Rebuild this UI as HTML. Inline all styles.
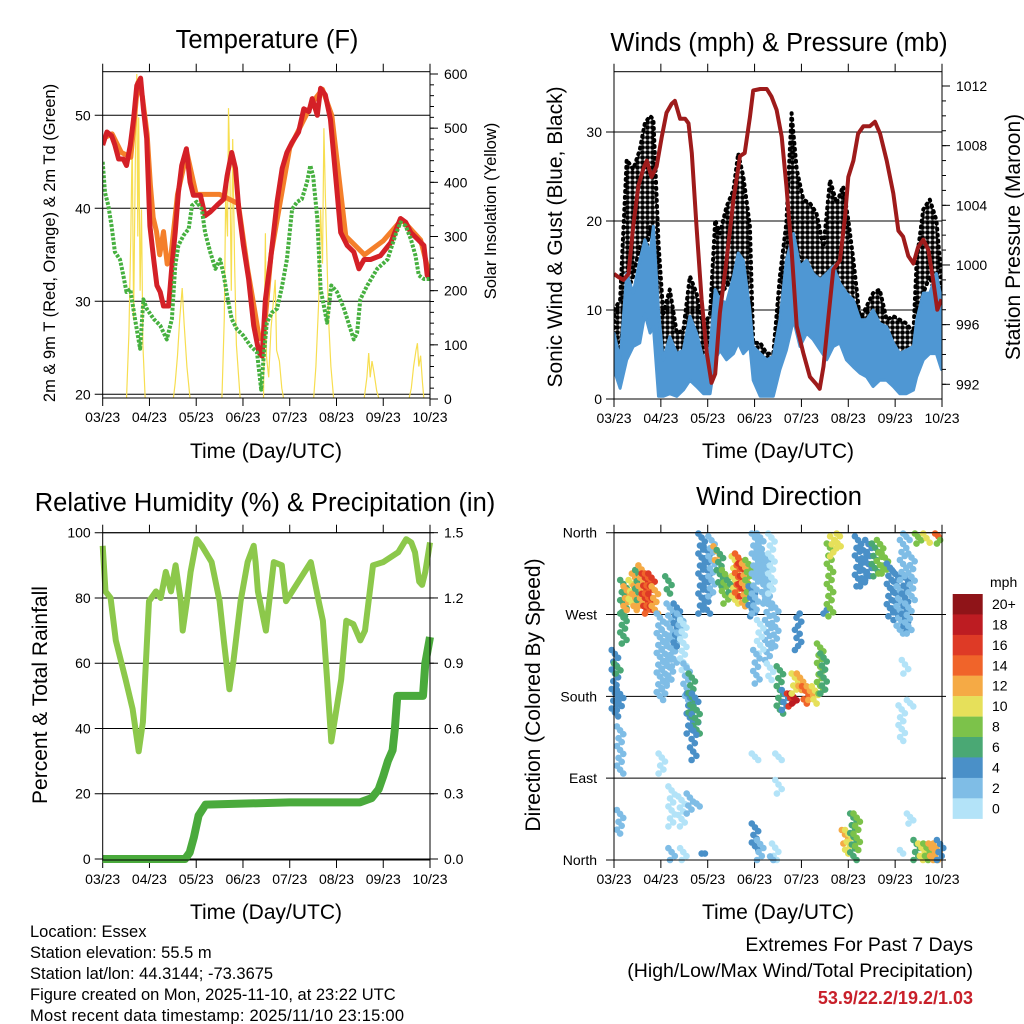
<!DOCTYPE html>
<html><head><meta charset="utf-8"><style>
html,body{margin:0;padding:0;background:#fff;}
svg{display:block;font-family:"Liberation Sans",Arial,sans-serif;}
</style></head><body>
<svg id="chart" width="1024" height="1024" viewBox="0 0 1024 1024" xmlns="http://www.w3.org/2000/svg">
<defs>
<pattern id="dotpat" width="5" height="5" patternUnits="userSpaceOnUse"><circle cx="2.5" cy="2.5" r="2.4" fill="#000"/></pattern>
</defs>
<rect x="0" y="0" width="1024" height="1024" fill="#fff"/>
<g font-size="25.5" text-anchor="middle" fill="#000">
<text x="267" y="48">Temperature (F)</text>
<text x="779" y="51">Winds (mph) &amp; Pressure (mb)</text>
<text x="265" y="511">Relative Humidity (%) &amp; Precipitation (in)</text>
<text x="779" y="505">Wind Direction</text>
</g>
<g font-size="21" text-anchor="middle" fill="#000">
<text x="266" y="458">Time (Day/UTC)</text>
<text x="778" y="458">Time (Day/UTC)</text>
<text x="266" y="919">Time (Day/UTC)</text>
<text x="778" y="919">Time (Day/UTC)</text>
<text transform="translate(562,237) rotate(-90)">Sonic Wind &amp; Gust (Blue, Black)</text>
<text transform="translate(1020,237) rotate(-90)">Station Pressure (Maroon)</text>
<text transform="translate(47,695) rotate(-90)">Percent &amp; Total Rainfall</text>
<text transform="translate(540,695) rotate(-90)">Direction (Colored By Speed)</text>
</g>
<g font-size="16.5" text-anchor="middle" fill="#000">
<text transform="translate(55,243) rotate(-90)">2m &amp; 9m T (Red, Orange) &amp; 2m Td (Green)</text>
<text transform="translate(496,211) rotate(-90)">Solar Insolation (Yellow)</text>
</g>
<g font-size="16.5" fill="#000">
<text x="30" y="937">Location: Essex</text>
<text x="30" y="958">Station elevation: 55.5 m</text>
<text x="30" y="979">Station lat/lon: 44.3144; -73.3675</text>
<text x="30" y="1000">Figure created on Mon, 2025-11-10, at 23:22 UTC</text>
<text x="30" y="1021" textLength="374">Most recent data timestamp: 2025/11/10 23:15:00</text>
</g>
<g font-size="19.5" text-anchor="end" fill="#000">
<text x="973" y="951">Extremes For Past 7 Days</text>
<text x="973" y="977">(High/Low/Max Wind/Total Precipitation)</text>
<text x="973" y="1004" fill="#c8202a" font-weight="bold" font-size="18">53.9/22.2/19.2/1.03</text>
</g>
<text x="990" y="587" font-size="14">mph</text>
</svg>
<script>
// ---------- data ----------
const dayLabels = ["03/23","04/23","05/23","06/23","07/23","08/23","09/23","10/23"];
// temperature
const tempT = [0,0.09,0.19,0.26,0.34,0.44,0.51,0.59,0.66,0.73,0.81,0.87,0.94,1.01,1.09,1.16,1.23,1.30,1.41,1.48,1.55,1.62,1.69,1.79,1.87,1.94,2.09,2.19,2.30,2.44,2.59,2.66,2.76,2.84,2.91,3.01,3.12,3.23,3.34,3.41,3.48,3.59,3.73,3.84,3.94,4.05,4.19,4.30,4.41,4.48,4.59,4.66,4.76,4.87,4.98,5.09,5.23,5.37,5.48,5.59,5.73,5.94,6.16,6.37,6.48,6.59,6.73,6.87,6.94,7.0];
const temp2m = [46.8,48.2,47.8,46.8,45.3,45.3,44.6,46.8,49.6,53.2,54.0,50.7,47.5,38.1,34.5,31.7,31.0,29.5,29.5,33.8,37.4,41.7,44.6,46.4,42.8,41.4,41.4,39.2,39.6,40.3,41.0,43.5,46.0,44.3,39.9,36.0,32.4,27.4,24.5,24.1,30.2,34.5,40.7,44.3,46.0,47.1,48.2,50.7,50.4,51.8,50.0,52.9,52.2,49.6,43.5,37.4,36.0,35.3,33.5,34.5,34.5,34.9,36.3,38.9,38.5,37.4,36.7,36.0,32.8,32.4];
const temp9mT = [0,0.2,0.4,0.6,0.75,0.85,0.95,1.02,1.08,1.15,1.22,1.3,1.38,1.45,1.6,1.8,2.0,2.5,2.9,3.1,3.25,3.35,3.45,3.6,4.0,4.5,4.7,4.9,5.2,5.6,6.0,6.4,6.8,7.0];
const temp9m = [47.5,48,46,45.5,53.5,52,48,42.5,39,37.5,35,37.5,34,34.5,41.5,46,41.5,41.5,40.5,33.5,29,26,26.5,35,46.5,51.5,52.8,50,37,35,36.5,38.8,36.6,32.6];
const tdT = [0,0.05,0.12,0.19,0.26,0.37,0.44,0.51,0.59,0.69,0.80,0.87,0.94,1.09,1.23,1.37,1.48,1.55,1.62,1.73,1.84,1.91,2.01,2.12,2.19,2.30,2.41,2.51,2.59,2.66,2.76,2.87,3.01,3.16,3.30,3.39,3.44,3.51,3.62,3.73,3.84,3.94,4.05,4.16,4.26,4.37,4.44,4.50,4.59,4.66,4.73,4.80,4.89,5.01,5.16,5.30,5.37,5.44,5.51,5.66,5.87,6.09,6.26,6.37,6.48,6.59,6.69,6.76,6.87,7.0];
const tdVals = [45.0,41.7,40.3,38.1,35.3,34.5,32.8,31.0,31.3,28.1,24.9,30.2,29.2,28.1,27.4,25.9,28.1,33.8,36.0,37.1,37.8,40.3,40.7,39.9,37.4,35.3,33.5,34.5,32.8,30.6,28.1,27.0,26.3,25.2,24.5,20.5,23.8,27.7,28.8,29.2,31.7,34.5,39.9,40.7,41.0,42.8,44.6,43.5,38.9,31.3,29.5,27.7,31.7,31.0,29.2,27.0,25.9,26.6,30.2,31.7,33.5,34.5,37.1,38.5,38.1,36.7,34.9,32.8,32.4,32.4];
const solarT = [0,0.51,0.56,0.6,0.63,0.66,0.7,0.73,0.75,0.77,0.8,0.83,0.86,0.91,1.51,1.55,1.6,1.65,1.7,1.74,1.8,1.87,2.55,2.6,2.63,2.67,2.69,2.72,2.75,2.78,2.82,2.86,2.94,3.44,3.48,3.5,3.55,3.6,3.65,3.69,3.72,3.78,3.83,3.87,4.51,4.56,4.62,4.66,4.7,4.73,4.76,4.79,4.83,4.88,4.94,5.59,5.65,5.69,5.72,5.76,5.8,5.86,5.91,6.55,6.6,6.65,6.7,6.73,6.76,6.8,6.84,6.87,7.0];
const solarW = [0,0,120,300,480,150,450,600,300,520,200,350,100,0,0,30,80,150,205,140,60,0,0,150,380,300,537,420,200,480,250,100,0,0,306,80,40,130,180,220,90,70,20,0,0,60,180,350,250,500,380,280,150,60,0,0,40,85,40,70,50,15,0,0,20,60,90,103,60,80,30,0,0];
// winds
const windT = [0,0.13,0.27,0.41,0.55,0.66,0.77,0.84,0.95,1.05,1.19,1.34,1.48,1.62,1.76,1.91,2.05,2.16,2.26,2.40,2.55,2.65,2.76,2.90,2.97,3.12,3.26,3.40,3.54,3.68,3.83,3.97,4.11,4.25,4.40,4.54,4.68,4.82,4.96,5.11,5.25,5.39,5.53,5.67,5.82,5.96,6.10,6.24,6.39,6.46,6.60,6.74,6.88,6.99];
const windHigh = [7.4,4.4,14.1,11.9,15.6,17.9,16.4,19.4,10.0,4.4,7.0,5.1,5.5,9.3,7.4,4.4,5.9,12.3,11.1,10.8,13.8,16.4,15.6,10.0,5.9,5.1,4.4,4.8,8.9,15.6,18.6,14.9,15.6,14.1,13.4,14.1,14.9,13.0,11.9,11.1,8.9,8.9,10.0,8.5,8.1,6.3,5.1,5.5,5.9,8.9,11.9,11.9,14.1,11.1];
const windLow = [3.3,1.2,4.4,5.9,6.3,9.6,7.4,8.1,0.3,0.3,0.6,0.3,1.0,2.1,1.4,0.6,0.6,4.4,5.5,4.4,5.1,6.3,5.1,5.9,2.1,0.3,0.3,0.3,3.3,5.5,8.9,5.9,7.4,6.7,5.5,4.4,5.9,6.3,4.4,3.6,2.9,2.5,1.4,2.1,2.1,1.4,0.6,0.6,1.0,2.5,4.4,5.1,5.1,3.3];
const gustT = [0,0.13,0.27,0.41,0.55,0.66,0.77,0.84,0.95,1.05,1.19,1.34,1.48,1.62,1.76,1.91,2.05,2.16,2.26,2.40,2.55,2.65,2.76,2.90,2.97,3.12,3.26,3.40,3.54,3.68,3.79,3.90,4.04,4.18,4.32,4.47,4.61,4.75,4.89,5.00,5.11,5.25,5.39,5.53,5.67,5.82,5.96,6.10,6.24,6.39,6.46,6.60,6.74,6.88,6.99];
const gustHigh = [10.0,11.1,26.9,25.8,28.0,31.0,31.8,31.4,17.5,9.6,12.3,7.4,7.7,13.8,11.9,8.1,9.6,20.1,18.6,21.6,23.5,27.6,25.0,19.4,6.3,6.3,5.1,5.1,13.8,19.8,32.1,25.8,22.4,22.0,20.9,17.1,24.6,22.0,23.9,20.1,15.6,8.9,10.4,11.9,12.3,8.9,9.3,8.9,8.5,7.4,15.6,21.3,22.4,20.1,13.4];
const gustLow = [5.1,5.5,11.9,13.8,17.1,15.6,19.4,17.1,8.1,4.4,6.3,5.1,5.1,8.1,6.3,4.4,5.5,10.0,11.9,12.6,13.8,15.6,11.9,11.1,4.4,3.6,3.3,3.3,8.9,11.5,14.9,17.1,13.8,11.9,11.9,10.4,9.6,10.0,10.0,8.5,6.3,5.1,5.1,5.1,5.5,5.1,5.1,4.4,4.4,3.6,8.1,11.9,13.8,11.1,8.9];
const presT = [0,0.09,0.20,0.31,0.41,0.52,0.62,0.70,0.80,0.91,1.02,1.12,1.23,1.30,1.41,1.52,1.59,1.66,1.76,1.87,1.98,2.08,2.16,2.26,2.40,2.55,2.69,2.79,2.90,2.97,3.12,3.26,3.36,3.47,3.58,3.68,3.79,3.90,4.04,4.18,4.32,4.39,4.47,4.57,4.68,4.82,4.93,5.00,5.11,5.21,5.32,5.46,5.57,5.68,5.82,5.96,6.07,6.17,6.28,6.39,6.49,6.60,6.71,6.81,6.90,6.99];
const presVals = [999.4,999.2,999.0,999.4,1002.6,1005.3,1006.4,1007.0,1005.9,1006.6,1008.6,1010.2,1010.8,1011.0,1009.8,1009.8,1009.5,1007.5,1002.6,997.7,994.1,992.1,992.7,996.8,1000.3,1004.4,1007.3,1007.5,1009.9,1011.7,1011.8,1011.8,1011.3,1010.4,1008.6,1005.3,1001.0,995.9,994.1,992.5,992.0,991.7,993.2,996.3,999.7,1000.3,1003.2,1005.9,1007.0,1008.8,1009.3,1009.3,1009.6,1008.8,1007.0,1004.8,1002.3,1001.9,1000.6,1000.1,1001.2,1001.7,1001.0,999.0,997.0,997.7];
// humidity & rain
const rhT = [0,0.06,0.17,0.28,0.49,0.64,0.77,0.86,0.99,1.14,1.24,1.35,1.46,1.56,1.67,1.71,1.80,1.88,2.01,2.12,2.33,2.50,2.59,2.71,2.80,2.95,3.10,3.23,3.27,3.32,3.49,3.66,3.83,3.92,4.45,4.62,4.71,4.80,4.89,5.10,5.21,5.36,5.51,5.61,5.78,6.00,6.32,6.49,6.60,6.68,6.77,6.83,6.90,7.0];
const rhVals = [96,82,80,67,55,46,33,42,79,82,80,88,82,90,79,70,79,88,98,96,91,79,67,52,61,79,91,96,91,82,70,91,90,79,91,79,73,55,36,55,73,72,67,70,90,91,94,98,97,94,85,84,88,97];
const rainT = [0,1.76,1.86,1.95,2.05,2.2,4.0,5.5,5.75,5.9,6.0,6.1,6.2,6.25,6.3,6.85,6.9,7.0];
const rainVals = [0,0,0.03,0.1,0.2,0.25,0.26,0.26,0.28,0.32,0.38,0.45,0.5,0.6,0.75,0.75,0.9,1.02];
// wind direction streaks (time, dir start, dir end, speed)
const dirT = [0.20,0.27,0.38,0.45,0.52,0.59,0.66,0.73,0.80,0.87,0.02,0.07,0.13,0.20,0.13,0.98,1.09,1.16,1.19,1.27,1.34,1.41,1.48,1.55,1.62,1.66,1.73,1.76,1.69,1.02,1.23,1.44,1.62,1.83,1.23,1.48,1.94,0.13,1.87,1.98,2.08,2.19,2.26,2.37,2.48,2.58,2.65,2.72,2.80,2.87,2.94,3.01,3.12,3.22,3.29,3.36,3.44,3.12,3.04,3.33,3.01,3.01,3.12,3.44,3.51,3.51,3.40,3.54,3.65,3.76,3.83,3.86,3.97,4.08,4.18,4.29,4.40,4.47,3.93,4.54,4.61,4.68,4.77,4.82,4.93,5.00,5.11,5.18,5.21,5.32,5.43,5.57,5.68,5.78,5.89,6.00,6.10,6.21,6.28,6.17,6.35,6.24,6.14,6.32,6.21,6.49,6.67,6.92,6.96,6.32,6.46,6.56,6.67,6.78,6.88,6.96,6.17];
const dirA = [308,301,308,315,319,324,315,315,315,301,231,216,187,271,147,271,253,312,282,246,282,271,264,216,183,205,183,169,147,117,81,70,73,62,13,13,7,55,359,345,356,345,341,319,308,334,337,326,326,330,301,359,359,337,308,359,282,264,231,216,117,40,22,18,117,88,4,213,187,183,183,205,205,191,191,191,238,227,231,271,348,334,352,359,33,33,51,51,356,345,352,348,352,337,326,319,301,315,282,352,337,359,170,176,220,359,359,359,348,51,22,18,18,18,18,22,11];
const dirB = [268,275,279,275,286,279,275,271,275,271,158,205,165,238,95,176,183,293,194,213,235,246,209,176,139,158,147,139,110,95,37,37,51,59,0,0,7,29,271,271,290,330,301,282,290,282,290,290,279,286,268,271,308,282,220,293,235,227,194,198,110,11,0,0,110,73,0,161,165,169,172,183,187,172,176,172,183,183,271,275,268,356,345,356,18,7,0,11,301,301,308,312,315,315,268,264,249,253,249,308,286,352,131,169,205,348,349,356,352,40,0,0,0,0,0,0,7];
const dirSpd = [7,12,10,13,7,12,16,14,17,13,4,7,4,7,2,2,2,6,2,3,4,3,1,2,4,7,5,6,4,1,1,1,3,2,2,1,4,3,4,4,3,12,7,8,7,10,14,16,12,8,5,3,2,2,3,1,2,1,3,1,1,4,2,1,1,1,3,7,5,17,18,11,12,14,12,11,9,7,4,4,9,11,10,10,12,11,7,9,4,4,4,7,8,8,4,4,3,4,2,2,3,2,1,1,1,8,10,14,8,1,7,10,9,12,12,4,1];
// colorbar
const cbLabels = ["20+","18","16","14","12","10","8","6","4","2","0"];
const cbColors = ["#8f1418","#bd1c22","#de3a26","#f0642a","#f5aa45","#e6e05a","#7cc24a","#4aa874","#4a90c8","#7fbde6","#b3e3f8"];
// axis tick values
const tempTicks = [20,30,40,50];
const solarTicks = [0,100,200,300,400,500,600];
const windTicks = [0,10,20,30];
const presTicks = [992,996,1000,1004,1008,1012];
const rhTicks = [0,20,40,60,80,100];
const rainTicks = [0.0,0.3,0.6,0.9,1.2,1.5];
const dirTicks = [0,90,180,270,360];
const dirNames = ["North","East","South","West","North"];

// ---------- helpers ----------
const NS = "http://www.w3.org/2000/svg";
const S = document.getElementById('chart');
function mk(tag, attrs, parent){
  const e = document.createElementNS(NS, tag);
  for (const k in attrs) e.setAttribute(k, attrs[k]);
  (parent || S).appendChild(e);
  return e;
}
function linear(d0,d1,r0,r1){ return v => r0 + (v-d0)/(d1-d0)*(r1-r0); }
function pathOf(xs, ys, fx, fy){ return xs.map((t,i)=>(i?'L':'M')+fx(t).toFixed(1)+' '+fy(ys[i]).toFixed(1)).join(' '); }
function bandOf(xs, hi, lo, fx, fy){
  let d = xs.map((t,i)=>(i?'L':'M')+fx(t).toFixed(1)+' '+fy(hi[i]).toFixed(1)).join(' ');
  for (let i = xs.length-1; i >= 0; i--) d += 'L'+fx(xs[i]).toFixed(1)+' '+fy(lo[i]).toFixed(1);
  return d + 'Z';
}

function panel(p){
  const g = mk('g', {});
  
  
  const fx = linear(0, 7, p.x0, p.x1);
  dayLabels.forEach((lab, i) => {
    const x = fx(i);
    const tb = mk('line', {x1:x, x2:x, y1:p.y1, y2:p.y1+8, stroke:'#000', 'stroke-width':1}, g);
    
    
    const tt = mk('line', {x1:x, x2:x, y1:p.y0-8, y2:p.y0, stroke:'#000', 'stroke-width':1}, g);
    
    
    const tl = mk('text', {x:x, y:p.y1+24, 'font-size':14, 'text-anchor':'middle'}, g);
    
    
    tl.textContent = lab;
  });
  return {g, fx};
}
function frame(g, p){
  const r = mk('rect', {x:p.x0, y:p.y0, width:p.x1-p.x0, height:p.y1-p.y0, fill:'none', stroke:'#000', 'stroke-width':1}, g);
  
  
}
function leftAxis(g, p, ticks, fy, fmt, grid){
  ticks.forEach((v,i) => {
    const y = fy(v);
    const l = mk('line', {x1:p.x0-8, x2: grid ? p.x1 : p.x0, y1:y, y2:y, stroke:'#000', 'stroke-width':1}, g);
    
    
    const t = mk('text', {x:p.x0-12, y:y+5, 'font-size':14, 'text-anchor':'end'}, g);
    
    
    t.textContent = fmt(v, i);
  });
}
function rightAxis(g, p, ticks, fy, fmt, minorStep){
  const lo = ticks[0], hi = ticks[ticks.length-1];
  for (let v = lo; v <= hi + 1e-9; v += minorStep){
    const y = fy(v);
    const m = mk('line', {x1:p.x1, x2:p.x1+4, y1:y, y2:y, stroke:'#000', 'stroke-width':1}, g);
    
    
  }
  ticks.forEach(v => {
    const y = fy(v);
    const l = mk('line', {x1:p.x1, x2:p.x1+8, y1:y, y2:y, stroke:'#000', 'stroke-width':1}, g);
    
    
    const t = mk('text', {x:p.x1+14, y:y+5, 'font-size':14}, g);
    
    
    t.textContent = fmt(v);
  });
}

// ---------- Temperature panel ----------
{
  const p = {name:'temperature-panel', x0:102.7, x1:430, y0:71.7, y1:398};
  const {g, fx} = panel(p);
  const fy = linear(20, 30, 394.3, 301.3);
  const fs = linear(0, 600, 399, 74);
  leftAxis(g, p, tempTicks, fy, v => String(v), true);
  rightAxis(g, p, solarTicks, fs, v => String(v), 20);
  const clip = mk('clipPath', {id:'clipTL'}, g);
  mk('rect', {x:p.x0, y:p.y0, width:p.x1-p.x0, height:p.y1-p.y0}, clip);
  const dg = mk('g', {'clip-path':'url(#clipTL)'}, g);
  const so = mk('path', {d:pathOf(solarT, solarW, fx, fs), fill:'none', stroke:'#f7de50', 'stroke-width':1.2}, dg);
  
  
  const o = mk('path', {d:pathOf(temp9mT, temp9m, fx, fy), fill:'none', stroke:'#f47f2a', 'stroke-width':5, 'stroke-linejoin':'round'}, dg);
  
  
  const r = mk('path', {d:pathOf(tempT, temp2m, fx, fy), fill:'none', stroke:'#d42027', 'stroke-width':5, 'stroke-linejoin':'round'}, dg);
  
  
  const gr = mk('path', {d:pathOf(tdT, tdVals, fx, fy), fill:'none', stroke:'#46b03f', 'stroke-width':4, 'stroke-dasharray':'3 1.5', 'stroke-linejoin':'round'}, dg);
  
  
  frame(g, p);
}

// ---------- Winds panel ----------
{
  const p = {name:'winds-panel', x0:614, x1:942, y0:71.7, y1:399};
  const {g, fx} = panel(p);
  const fy = linear(0, 10, 399, 310);
  const fp = linear(992, 1012, 384.3, 86);
  leftAxis(g, p, windTicks, fy, v => String(v), true);
  rightAxis(g, p, presTicks, fp, v => String(v), 1);
  const clip = mk('clipPath', {id:'clipTR'}, g);
  mk('rect', {x:p.x0, y:p.y0, width:p.x1-p.x0, height:p.y1-p.y0}, clip);
  const dg = mk('g', {'clip-path':'url(#clipTR)'}, g);
  const gb = mk('path', {d:bandOf(gustT, gustHigh, gustLow, fx, fy), fill:'url(#dotpat)', stroke:'#000', 'stroke-width':4, 'stroke-linejoin':'round', 'stroke-dasharray':'1 5', 'stroke-linecap':'round'}, dg);
  
  
  const wb = mk('path', {d:bandOf(windT, windHigh, windLow, fx, fy), fill:'#4f97d3', stroke:'#4f97d3', 'stroke-width':3, 'stroke-linejoin':'round'}, dg);
  
  
  const pl = mk('path', {d:pathOf(presT, presVals, fx, fp), fill:'none', stroke:'#9e1b1b', 'stroke-width':4, 'stroke-linejoin':'round'}, dg);
  
  
  frame(g, p);
}

// ---------- Humidity panel ----------
{
  const p = {name:'humidity-panel', x0:102.7, x1:430, y0:532.7, y1:860};
  const {g, fx} = panel(p);
  const fy = linear(0, 100, 859, 532.7);
  const fr = linear(0, 1.5, 859, 532.7);
  leftAxis(g, p, rhTicks, fy, v => String(v), true);
  rightAxis(g, p, rainTicks, fr, v => v.toFixed(1), 0.3);
  const clip = mk('clipPath', {id:'clipBL'}, g);
  mk('rect', {x:p.x0-4, y:p.y0, width:p.x1-p.x0+8, height:p.y1-p.y0+4}, clip);
  const dg = mk('g', {'clip-path':'url(#clipBL)'}, g);
  const rh = mk('path', {d:pathOf(rhT, rhVals, fx, fy), fill:'none', stroke:'#8cc84b', 'stroke-width':6, 'stroke-linejoin':'round'}, dg);
  
  
  const rn = mk('path', {d:pathOf(rainT, rainVals, fx, fr), fill:'none', stroke:'#4aaa3c', 'stroke-width':8, 'stroke-linejoin':'round'}, dg);
  
  
  frame(g, p);
}

// ---------- Wind direction panel ----------
{
  const p = {name:'wind-direction-panel', x0:614, x1:942, y0:532.7, y1:860};
  const {g, fx} = panel(p);
  const fy = linear(0, 360, 860, 532.7);
  dirTicks.forEach((v,i) => {
    const y = fy(v);
    const l = mk('line', {x1:p.x0-8, x2:p.x1+4, y1:y, y2:y, stroke:'#000', 'stroke-width':1}, g);
    
    
    const t = mk('text', {x:p.x0-17, y:y+5, 'font-size':14, 'text-anchor':'end'}, g);
    
    
    t.textContent = dirNames[i];
  });
  const dg = mk('g', {}, g);
  
  
  dirT.forEach((t, i) => {
    const x = fx(t);
    const ya = fy(dirA[i]), yb = fy(dirB[i]);
    const col = cbColors[10 - Math.min(10, Math.floor(dirSpd[i]/2))];
    const n = Math.max(1, Math.round(Math.abs(yb-ya)/4));
    for (let k = 0; k <= n; k++){
      const y = ya + (yb-ya)*k/n;
      const c = mk('circle', {cx:(x + ((k*7)%5 - 2)*1.6).toFixed(1), cy:y.toFixed(1), r:3.3, fill:col}, dg);
      
      
    }
  });
  frame(g, p);
  cbColors.forEach((c, i) => {
    const y = 594 + i*20.43;
    const r = mk('rect', {x:952.7, y:y.toFixed(1), width:30, height:20.6, fill:c}, g);
    
    
    const t = mk('text', {x:992, y:(y+15).toFixed(1), 'font-size':14}, g);
    
    
    t.textContent = cbLabels[i];
  });
}
</script>
</body></html>
